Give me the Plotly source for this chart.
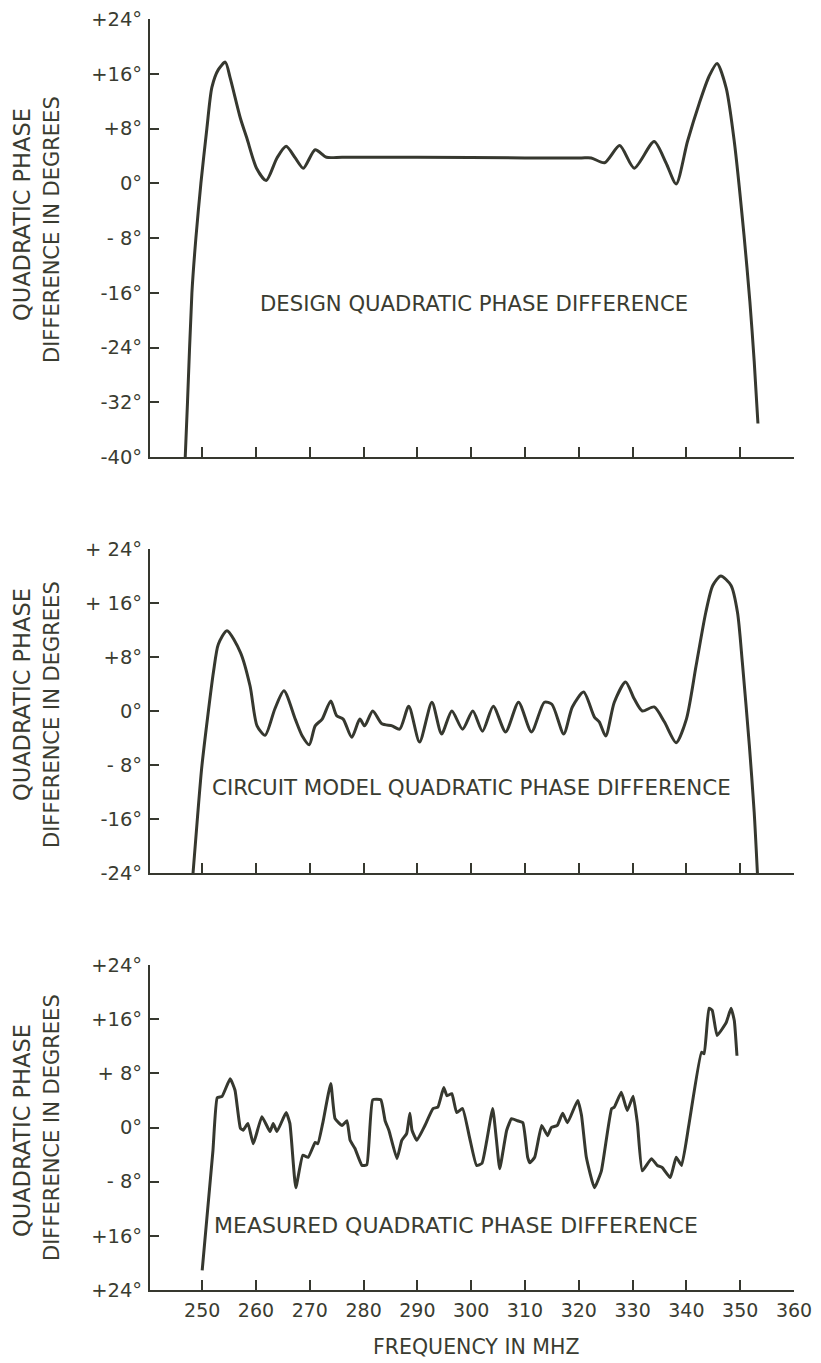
import plotly.graph_objects as go

# ---------------- data ----------------
design_freq = [246.85, 247.27, 248.09, 248.83, 249.76, 250.87, 251.80, 253.0, 254.3,
               255.2, 257.1, 258.3, 260.1, 261.9, 263.9, 265.6, 267.3, 268.8, 271.0,
               273.1, 276.0, 290.0, 310.0, 320.5, 322.3, 324.8, 327.6, 330.3, 334.0,
               336.2, 338.1, 340.2, 342.4, 344.2, 345.7, 347.4, 348.9, 350.7,
               351.8, 352.6, 353.3]
design_val = [-40.0, -32.0, -16.0, -8.0, 0.0, 8.0, 14.0, 16.6, 17.7,
              15.4, 9.5, 6.6, 2.2, 0.4, 3.7, 5.4, 3.7, 2.2, 4.9,
              3.8, 3.8, 3.8, 3.7, 3.7, 3.7, 3.0, 5.5, 2.2, 6.1,
              3.0, -0.1, 6.1, 11.7, 15.6, 17.5, 13.9, 6.1, -7.5,
              -17.3, -26.0, -35.1]

model_freq = [248.3, 249.1, 249.9, 251.0, 252.1, 253.0, 254.6, 257.1, 258.9, 260.2,
              261.7, 263.5, 265.2, 267.3, 268.6, 269.9, 271.0, 272.3, 273.9, 275.0,
              276.2, 277.8, 279.3, 280.2, 281.7, 283.4, 285.3, 286.7, 288.4, 290.4,
              292.7, 294.5, 296.4, 298.4, 300.3, 302.1, 304.1, 306.4, 308.8, 311.2,
              313.6, 315.0, 317.2, 318.8, 320.9, 322.9, 323.8, 325.0, 326.6, 328.7,
              330.3, 331.8, 334.0, 335.9, 338.1, 340.0, 341.8, 343.6, 344.9, 346.4,
              348.3, 349.5, 350.4, 351.7, 352.6, 353.2]
model_val = [-24.0, -16.0, -8.5, -1.0, 5.8, 9.9, 11.9, 8.7, 3.7, -2.2,
             -3.6, 0.3, 3.0, -1.2, -3.7, -5.0, -2.2, -1.2, 1.5, -0.7,
             -1.2, -3.9, -1.2, -2.2, 0.0, -1.9, -2.2, -2.7, 0.7, -4.6,
             1.3, -3.4, 0.0, -2.7, 0.0, -3.0, 0.7, -3.1, 1.3, -3.1,
             1.3, 1.0, -3.4, 0.6, 2.8, -0.9, -1.6, -3.7, 1.3, 4.3,
             1.8, 0.0, 0.6, -1.6, -4.7, -1.2, 6.7, 14.6, 18.6, 20.0,
             18.6, 14.6, 7.2, -5.1, -15.0, -24.0]

meas_freq = [250.0, 252.0, 252.8, 253.7, 255.2, 256.1, 257.1, 257.6, 258.5, 259.5,
             261.1, 262.6, 263.2, 263.9, 265.6, 266.3, 267.4, 268.7, 269.7, 271.0,
             271.5, 272.4, 273.9, 274.7, 276.0, 276.9, 277.5, 278.4, 279.7, 280.6,
             281.7, 283.2, 284.0, 284.7, 286.2, 287.1, 288.0, 288.6, 289.0, 289.9,
             291.4, 292.9, 293.8, 294.9, 295.5, 296.4, 297.3, 298.4, 299.7, 301.0,
             302.0, 302.9, 304.0, 304.7, 305.3, 306.6, 307.5, 308.6, 309.6, 310.5,
             310.9, 311.8, 313.1, 314.2, 314.9, 316.0, 317.0, 317.9, 319.8, 320.5,
             321.4, 322.9, 324.2, 326.1, 326.6, 327.9, 329.0, 330.1, 330.9, 331.8,
             333.5, 334.6, 335.5, 337.0, 338.1, 339.1, 340.5, 342.8, 343.3, 344.2,
             344.8, 345.7, 347.4, 348.3, 348.9, 349.4]
meas_val = [-21.1, -3.4, 4.4, 4.6, 7.2, 5.5, -0.1, -0.4, 0.6, -2.4,
            1.6, -0.6, 0.6, -0.6, 2.2, 0.6, -8.9, -4.1, -4.4, -2.2,
            -2.4, 0.6, 6.5, 1.3, 0.3, 1.0, -1.9, -3.1, -5.6, -5.5,
            4.1, 4.1, 1.0, -0.4, -4.6, -1.9, -0.9, 2.1, -0.4, -1.9,
            0.3, 2.8, 3.0, 5.9, 4.7, 5.0, 2.2, 2.8, -1.5, -5.6,
            -5.3, -1.9, 2.8, -1.9, -6.1, -0.4, 1.3, 1.0, 0.7, -4.4,
            -5.2, -4.4, 0.3, -1.2, 0.0, 0.3, 2.1, 0.7, 4.0, 1.8,
            -4.4, -8.9, -6.4, 2.8, 3.0, 5.2, 2.5, 4.6, 0.6, -6.4,
            -4.6, -5.6, -5.9, -7.4, -4.4, -5.6, 0.6, 11.1, 10.9, 17.6,
            17.3, 13.6, 15.5, 17.6, 15.8, 10.6]

x_ticks = [250, 260, 270, 280, 290, 300, 310, 320, 330, 340, 350, 360]
x_ticktext = ["250", "260", "270", "280", "290", "300", "310", "320", "330", "340", "350", "360"]

top_ticks = [24, 16, 8, 0, -8, -16, -24, -32, -40]
top_ticktext = ["+24°", "+16°", "+8°", "0°", "- 8°", "-16°", "-24°", "-32°", "-40°"]
mid_ticks = [24, 16, 8, 0, -8, -16, -24]
mid_ticktext = ["+ 24°", "+ 16°", "+8°", "0°", "- 8°", "-16°", "-24°"]
bot_ticks = [24, 16, 8, 0, -8, -16, -24]
bot_ticktext = ["+24°", "+16°", "+ 8°", "0°", "- 8°", "+16°", "+24°"]

panel_labels = ["DESIGN QUADRATIC PHASE DIFFERENCE",
                "CIRCUIT MODEL QUADRATIC PHASE DIFFERENCE",
                "MEASURED QUADRATIC PHASE DIFFERENCE"]
ytitle_1 = "QUADRATIC PHASE"
ytitle_2 = "DIFFERENCE IN DEGREES"
xtitle = "FREQUENCY IN MHZ"

# ---------------- style ----------------
W, H = 821, 1363
INK = "#3a3c31"
LINE = "#36382f"
FONT = "DejaVu Sans"

def px_x(p):
    return p / W

def px_y(p):
    return 1 - p / H

x_dom = [px_x(150), px_x(794)]
y_doms = [[px_y(457), px_y(19)], [px_y(873), px_y(549)], [px_y(1290), px_y(965)]]
y_ranges = [[-40, 24], [-24, 24], [-24, 24]]
xr = [240.3, 360]

fig = go.Figure()
series = [(design_freq, design_val), (model_freq, model_val), (meas_freq, meas_val)]
for i, (fx, fy) in enumerate(series):
    sfx = "" if i == 0 else str(i + 1)
    fig.add_trace(go.Scatter(
        x=fx, y=fy, mode="lines", xaxis="x" + sfx, yaxis="y" + sfx,
        line=dict(color=LINE, width=3, shape="spline", smoothing=0.7 if i < 2 else 0.4),
        showlegend=False, hoverinfo="skip"))

layout = dict(width=W, height=H, margin=dict(l=0, r=0, t=0, b=0, autoexpand=False),
              autosize=False,
              paper_bgcolor="white", plot_bgcolor="white", showlegend=False,
              font=dict(family=FONT, color=INK))

yticks = [(top_ticks, top_ticktext), (mid_ticks, mid_ticktext), (bot_ticks, bot_ticktext)]
for i in range(3):
    sfx = "" if i == 0 else str(i + 1)
    layout["xaxis" + sfx] = dict(
        domain=x_dom, range=xr, anchor="y" + sfx, showgrid=False, zeroline=False,
        showline=True, linecolor=LINE, linewidth=2, ticks="inside", ticklen=10,
        tickwidth=1.6, tickcolor=LINE, tickvals=x_ticks, ticktext=x_ticktext,
        showticklabels=(i == 2), tickfont=dict(family=FONT, size=19, color=INK),
        ticklabelstandoff=2, automargin=False)
    tv, tt = yticks[i]
    layout["yaxis" + sfx] = dict(
        domain=y_doms[i], range=y_ranges[i], anchor="x" + sfx, showgrid=False,
        zeroline=False, showline=True, linecolor=LINE, linewidth=2, ticks="inside",
        ticklen=9, tickwidth=1.6, tickcolor=LINE, tickvals=tv, ticktext=tt,
        tickfont=dict(family=FONT, size=19.5, color=INK), ticklabelstandoff=2,
        automargin=False)

annotations = []
label_pos = [(300.5, -17.5), (300.1, -11.3), (297.1, -14.5)]
label_sizes = [21.2, 21.4, 22.0]
for i in range(3):
    sfx = "" if i == 0 else str(i + 1)
    annotations.append(dict(text=panel_labels[i], x=label_pos[i][0], y=label_pos[i][1],
                            xref="x" + sfx, yref="y" + sfx, showarrow=False,
                            xanchor="center", yanchor="middle",
                            font=dict(family=FONT, size=label_sizes[i], color=INK)))

ytitle_centers = [(215, 230), (695, 715), (1131, 1128)]
for c1, c2 in ytitle_centers:
    annotations.append(dict(text=ytitle_1, x=px_x(22), y=px_y(c1), xref="paper", yref="paper",
                            textangle=-90, showarrow=False, xanchor="center", yanchor="middle",
                            font=dict(family=FONT, size=22.5, color=INK)))
    annotations.append(dict(text=ytitle_2, x=px_x(52), y=px_y(c2), xref="paper", yref="paper",
                            textangle=-90, showarrow=False, xanchor="center", yanchor="middle",
                            font=dict(family=FONT, size=21, color=INK)))

annotations.append(dict(text=xtitle, x=px_x(476), y=px_y(1347), xref="paper", yref="paper",
                        showarrow=False, xanchor="center", yanchor="middle",
                        font=dict(family=FONT, size=20.5, color=INK)))
layout["annotations"] = annotations
fig.update_layout(**layout)
fig.write_html("out.html",
               config={"responsive": False, "displayModeBar": False},
               post_script="document.body.style.margin='0px';document.body.style.overflow='hidden';")
